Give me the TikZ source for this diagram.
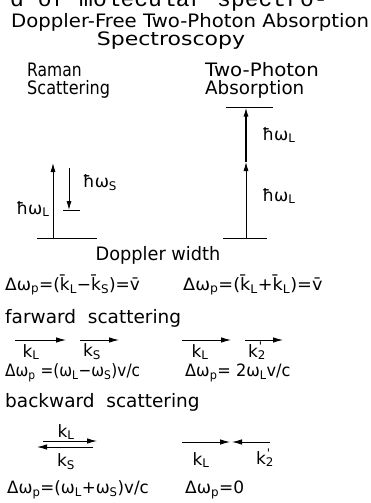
\documentclass[tikz,border=0pt]{standalone}
\usepackage{fontspec}
\usepackage{graphicx}
\setmainfont{DejaVu Sans}
\newfontfamily\typewr{Liberation Mono}
\usetikzlibrary{arrows.meta, positioning}

\newcommand{\dwp}{Δω\textsubscript{p}}
\newcommand{\kvec}[1]{\={k}\textsubscript{#1}}
\newcommand{\kprime}{k\makebox[0pt][l]{\textsuperscript{\kern1pt\textquotesingle}}\textsubscript{2}}
\newcommand{\sx}[2]{\scalebox{#1}[1]{#2}}

\begin{document}
\begin{tikzpicture}[
    x=1pt, y=-1pt,
    txt/.style={font=\fontsize{18.5}{21}\selectfont, inner sep=0pt},
    eqn/.style={font=\fontsize{17}{19}\selectfont, inner sep=0pt, anchor=west},
    sub/.style={font=\fontsize{17}{19}\selectfont, inner sep=0pt},
    lvl/.style={line width=1pt},
    arr/.style={-{Latex[length=9pt, width=5pt]}, line width=0.8pt},
    wvec/.style={-{Latex[length=10pt, width=5.5pt]}, line width=0.9pt}
]
\useasboundingbox (0,0) rectangle (371,503);
\clip (0,0) rectangle (371,503);

% headings
\node[font=\typewr\fontsize{23}{25}\selectfont, anchor=base west, inner sep=0pt] (cut) at (10,7) {d of molecular spectro-};
\node[txt, anchor=west] (title) at (11,22) {\sx{1.065}{Doppler-Free Two-Photon Absorption}};
\node[txt] (spec) at (171,41) {\sx{1.19}{Spectroscopy}};
\node[txt, anchor=west] (raman) at (27,70) {\sx{0.84}{Raman}};
\node[txt, below=3pt of raman.south west, anchor=north west] (scat) {\sx{0.87}{Scattering}};
\node[txt, anchor=west] (twoph) at (205,70) {\sx{1.07}{Two-Photon}};
\node[txt, below=3pt of twoph.south west, anchor=north west] (absorp) {\sx{0.99}{Absorption}};

% Raman levels
\coordinate (rg1) at (37,238);
\coordinate (rg2) at (97,238);
\coordinate (rv1) at (63,210);
\coordinate (rv2) at (80,210);
\draw[lvl] (rg1) -- (rg2);
\draw[lvl] (rv1) -- (rv2);
\coordinate (rup0) at (53,238);
\coordinate (rup1) at (53,163);
\coordinate (rdn0) at (69,168);
\coordinate (rdn1) at (69,210);
\draw[arr] (rup0) -- (rup1);
\draw[arr] (rdn0) -- (rdn1);
\node[sub] (hwl) at (33,209) {ħω\textsubscript{L}};
\node[sub] (hws) at (100,183) {ħω\textsubscript{S}};

% two-photon levels
\coordinate (tg1) at (223,238);
\coordinate (tg2) at (267,238);
\coordinate (te1) at (226,107);
\coordinate (te2) at (273,107);
\draw[lvl] (tg1) -- (tg2);
\draw[lvl] (te1) -- (te2);
\coordinate (tup0) at (246,238);
\coordinate (tmid) at (246,162);
\coordinate (tup1) at (246,107.5);
\draw[arr] (tup0) -- (tmid);
\draw[arr, line width=1.3pt] (tmid) -- (tup1);
\node[sub] (hwl1) at (279,135) {ħω\textsubscript{L}};
\node[sub] (hwl2) at (279,196) {ħω\textsubscript{L}};

\node[txt] (dopp) at (158,255) {\sx{0.96}{Doppler width}};

% Doppler shifts
\node[eqn] (eqr) at (5,285) {\dwp=(\kvec{L}−\kvec{S})=\={v}};
\node[eqn] (eqt) at (183,285) {\sx{1.04}{\dwp=(\kvec{L}+\kvec{L})=\={v}}};

\node[txt, anchor=west] (fwd) at (5,318) {farward\ \ scattering};
\coordinate (f1a) at (15,340);  \coordinate (f1b) at (66,340);
\coordinate (f2a) at (80,340);  \coordinate (f2b) at (119,340);
\coordinate (f3a) at (182,340); \coordinate (f3b) at (231,340);
\coordinate (f4a) at (245,340); \coordinate (f4b) at (283,340);
\draw[wvec] (f1a) -- (f1b);
\draw[wvec] (f2a) -- (f2b);
\draw[wvec] (f3a) -- (f3b);
\draw[wvec] (f4a) -- (f4b);
\node[sub] (fkl) at (31,352) {k\textsubscript{L}};
\node[sub] (fks) at (92,352) {k\textsubscript{S}};
\node[sub] (fkl2) at (200,352) {k\textsubscript{L}};
\node[sub] (fk2) at (257,351) {\kprime};
\node[eqn] (eqf1) at (5,373) {\sx{0.9}{\dwp\ =(ω\textsubscript{L}−ω\textsubscript{S})v/c}};
\node[eqn] (eqf2) at (185,373) {\sx{0.95}{\dwp= 2ω\textsubscript{L}v/c}};

\node[txt, anchor=west] (bwd) at (5,402) {backward\ \ scattering};
\coordinate (b1a) at (43,441); \coordinate (b1b) at (97,441);
\coordinate (b2a) at (93,447); \coordinate (b2b) at (37,447);
\coordinate (b3a) at (182,442); \coordinate (b3b) at (230,442);
\coordinate (b4a) at (270,442); \coordinate (b4b) at (232,442);
\draw[wvec] (b1a) -- (b1b);
\draw[wvec] (b2a) -- (b2b);
\draw[wvec] (b3a) -- (b3b);
\draw[wvec] (b4a) -- (b4b);
\node[sub] (bkl) at (66,432) {k\textsubscript{L}};
\node[sub] (bks) at (66,462) {k\textsubscript{S}};
\node[sub] (bkl2) at (201,460) {k\textsubscript{L}};
\node[sub] (bk2) at (265,458) {\kprime};
\node[eqn] (eqb1) at (7,490) {\sx{0.98}{\dwp=(ω\textsubscript{L}+ω\textsubscript{S})v/c}};
\node[eqn] (eqb2) at (185,490) {\dwp=0};
\end{tikzpicture}
\end{document}
